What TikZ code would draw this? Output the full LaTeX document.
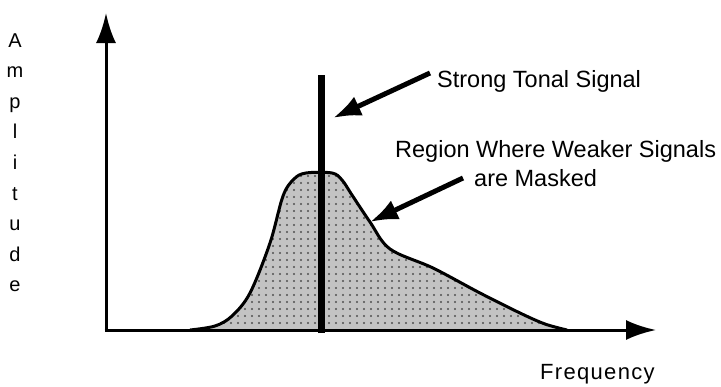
\documentclass[tikz,border=0pt]{standalone}
\usepackage{fontspec}
\setmainfont{Liberation Sans}
\usetikzlibrary{arrows.meta, patterns.meta}
\definecolor{maskgray}{RGB}{195,195,195}
\definecolor{dotgray}{RGB}{80,80,80}

\begin{document}
\begin{tikzpicture}[x=1pt, y=-1pt,
  font=\fontsize{23.5}{28}\selectfont,
  axis/.style={line width=3pt, -{Latex[length=30pt, width=20pt]}},
  pointer/.style={line width=5pt, -{Latex[length=28pt, width=21pt]}},
  lbl/.style={inner sep=0pt, anchor=base west},
  letter/.style={inner sep=0pt, anchor=base, font=\fontsize{20}{24}\selectfont},
  masked/.style={fill=maskgray, postaction={pattern={Dots[distance=7pt, radius=1.2pt]}, pattern color=dotgray}},
  outline/.style={line width=3pt, line join=round}
]
\useasboundingbox (0,0) rectangle (721,386);
% masking curve
\def\maskcurve{(190,330) (215,326) (232,316) (250,293) (270,243) (283,196) (294,179) (306,173) (332,173) (342,180) (352,195) (370,222) (390,249) (433,268) (480,293) (520,313) (545,324) (567,330)}
\fill[masked] plot[smooth, tension=0.55] coordinates {\maskcurve} -- cycle;
\draw[outline] plot[smooth, tension=0.55] coordinates {\maskcurve};
% axes
\coordinate (origin) at (106,330);
\coordinate (ytip) at (106,13);
\coordinate (xtip) at (656,330);
\draw[axis] ([yshift=1.5pt]origin) -- (ytip);
\draw[axis] ([xshift=-1.5pt]origin) -- (xtip);
% tonal signal
\coordinate (spikebot) at (321,333);
\coordinate (spiketop) at (321,75);
\draw[line width=7pt] (spikebot) -- (spiketop);
% labels
\node[lbl] (tonal) at (437,87) {Strong Tonal Signal};
\node[lbl] (region) at (395,157) {Region Where Weaker Signals};
\node[lbl] (masktxt) at (474,186) {are Masked};
\node[lbl, font=\fontsize{22}{26}\selectfont\addfontfeature{LetterSpace=6}] (freq) at (540,379) {Frequency};
\foreach \ch [count=\i] in {A,m,p,l,i,t,u,d,e}
  \node[letter] (amp\i) at (15,{47+30.6*(\i-1)}) {\ch};
% pointers
\coordinate (tonaltip) at (333,118);
\coordinate (masktip) at (370,222);
\draw[pointer] ([xshift=-7pt, yshift=14pt]tonal.base west) -- (tonaltip);
\draw[pointer] ([xshift=-11pt, yshift=8pt]masktxt.base west) -- (masktip);
\end{tikzpicture}
\end{document}
